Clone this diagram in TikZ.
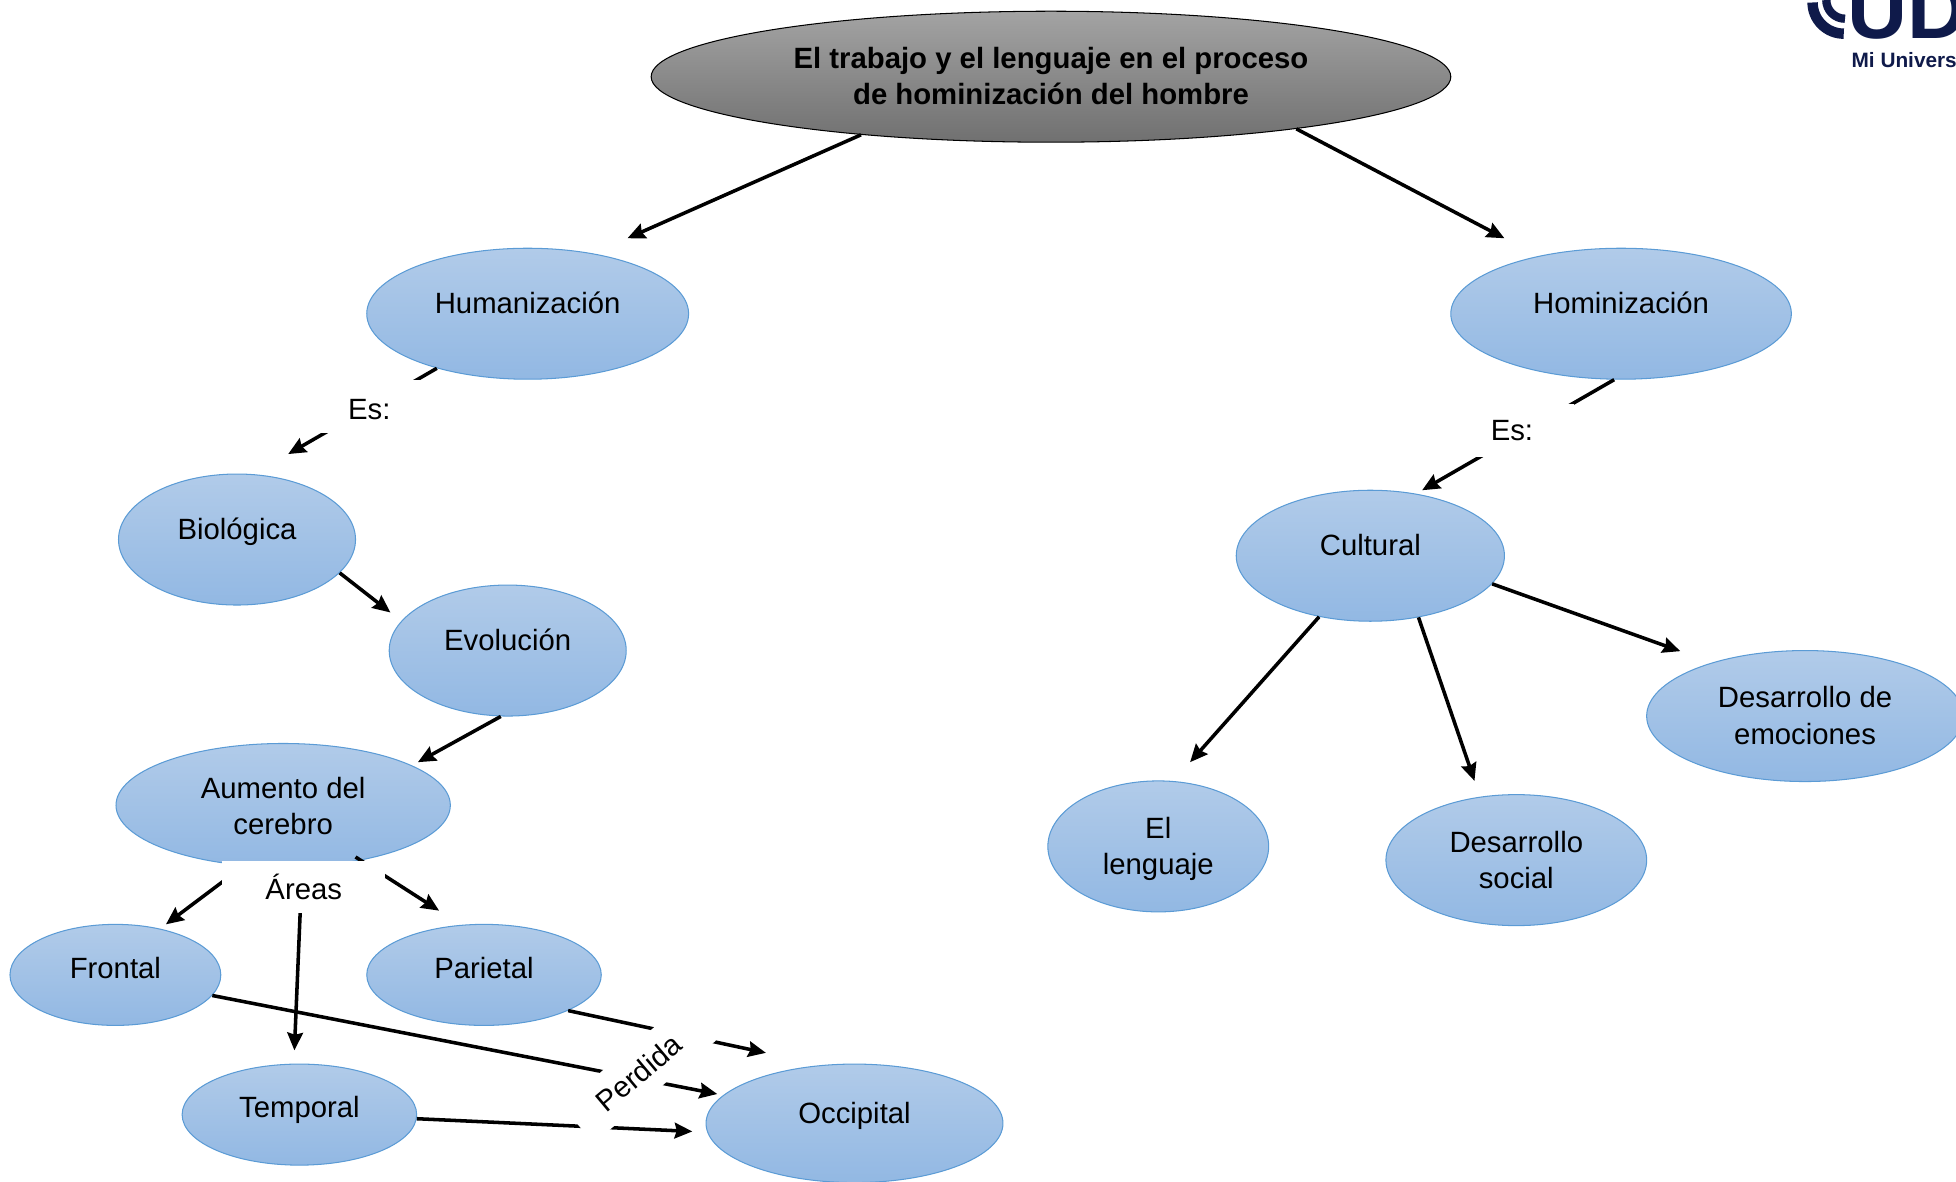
\documentclass[tikz,border=0pt]{standalone}
\usepackage{fontspec}
\setmainfont{Liberation Sans}
\usetikzlibrary{shapes.geometric, arrows.meta}
\definecolor{ovaltop}{HTML}{B1CBE9}
\definecolor{ovalbot}{HTML}{92B8E3}
\definecolor{ovalline}{HTML}{5B9BD5}
\definecolor{logoblue}{HTML}{0F1A4A}
\begin{document}
\begin{tikzpicture}[>={Stealth[length=8.5pt,width=7.5pt,inset=1pt]},x=.6pt,y=-.6pt,font=\fontsize{14.1}{17.4}\selectfont,
oval/.style 2 args={ellipse, draw=ovalline, line width=.5pt, top color=ovaltop, bottom color=ovalbot, inner sep=0pt, align=center, minimum width=#1*.6pt, minimum height=#2*.6pt},
one/.style={text height=10pt, text depth=10pt},
low/.style={text height=11.5pt, text depth=8.5pt},
two/.style={text height=27pt, text depth=0pt},
link/.style={->, line width=1.7pt},
gap/.style={fill=white, inner sep=0pt, minimum width=#1*.6pt, minimum height=42*.6pt}]
\useasboundingbox (0,0) rectangle (1568,947.5);
% logo
\node (ud) [anchor=base west, inner sep=0pt, text=logoblue, font=\fontsize{40}{40}\bfseries] at (1481,30.5) {UD};
\node (mi) [anchor=base west, inner sep=0pt, text=logoblue, font=\fontsize{10}{12}\bfseries] at (1484,54.5) {Mi Univers};
\draw [logoblue, line width=5pt] (1453,2) arc[start angle=180, end angle=270, radius=15pt];
\draw [logoblue, line width=4pt] (1464,0) arc[start angle=180, end angle=270, radius=9pt];
% ovals
\node (title) [oval={641}{105}, two, top color=black!36, bottom color=black!56, draw=black, font=\fontsize{14.1}{17.4}\bfseries] at (842.5,61.5) {El trabajo y el lenguaje en el proceso\\de hominización del hombre};
\node (hum) [oval={258}{105}, one] at (423,251.5) {Humanización};
\node (hom) [oval={273}{105}, one] at (1299.5,251.5) {Hominización};
\node (bio) [oval={190}{105}, one] at (190,432.5) {Biológica};
\node (evo) [oval={190}{105}, one] at (407,521.5) {Evolución};
\node (aum) [oval={268}{99}, two, text height=28.2pt] at (227,645.5) {Aumento del\\cerebro};
\node (fro) [oval={169}{81}, low] at (92.5,781.5) {Frontal};
\node (par) [oval={188}{81}, low] at (388,781.5) {Parietal};
\node (tem) [oval={188}{81}, low] at (240,893.5) {Temporal};
\node (occ) [oval={238}{95}, one] at (685,900.5) {Occipital};
\node (cul) [oval={215}{105}, one] at (1098.5,445.5) {Cultural};
\node (len) [oval={177}{105}, two] at (928.5,678.5) {El\\lenguaje};
\node (soc) [oval={209}{105}, two] at (1215.5,689.5) {Desarrollo\\social};
\node (emo) [oval={254}{105}, two] at (1447,574) {Desarrollo de\\emociones};
% free ends
\coordinate (humin) at (503,191);
\coordinate (homin) at (1206,191);
\coordinate (bioin) at (231,364);
\coordinate (culin) at (1140,393);
\coordinate (evoin) at (313,491);
\coordinate (aumin) at (335,611);
\coordinate (froin) at (133,741);
\coordinate (parin) at (352,730);
\coordinate (parout) at (285,687);
\coordinate (temin) at (236,842);
\coordinate (occa) at (575,877);
\coordinate (occb) at (614,844);
\coordinate (occc) at (555,907);
\coordinate (lenin) at (954,611);
\coordinate (socin) at (1182,626);
\coordinate (emoin) at (1347,522);
% links
\draw [link] (title.197.4)--(humin);
\draw [link] (title.-12.26)--(homin);
\draw [link] (hum.211.1)--(bioin);
\draw [link] (hom.264.1)--(culin);
\draw [link] (bio.-18.76)--(evoin);
\draw [link] (evo.264.6)--(aumin);
\draw [link] (aum.237.9)--(froin);
\draw [link] (parout)--(parin);
\draw [link] (aum.-73)--(temin);
\draw [link] (fro.-12)--(occa);
\draw [link] (par.-23)--(occb);
\draw [link] (tem.-2.1)--(occc);
\draw [link] (cul.230.1)--(lenin);
\draw [link] (cul.-52.7)--(socin);
\draw [link] (cul.-13)--(emoin);
% labels over the links
\node (es1) [gap=90, text height=12.4pt] at (296,326) {Es:};
\node (es2) [gap=100] at (1212,345) {Es:};
\node (areas) [gap=131] at (243.5,711) {Áreas};
\node (perd) [gap=128, rotate=40, minimum height=40*.6pt] at (512,860) {Perdida};
\end{tikzpicture}
\end{document}
